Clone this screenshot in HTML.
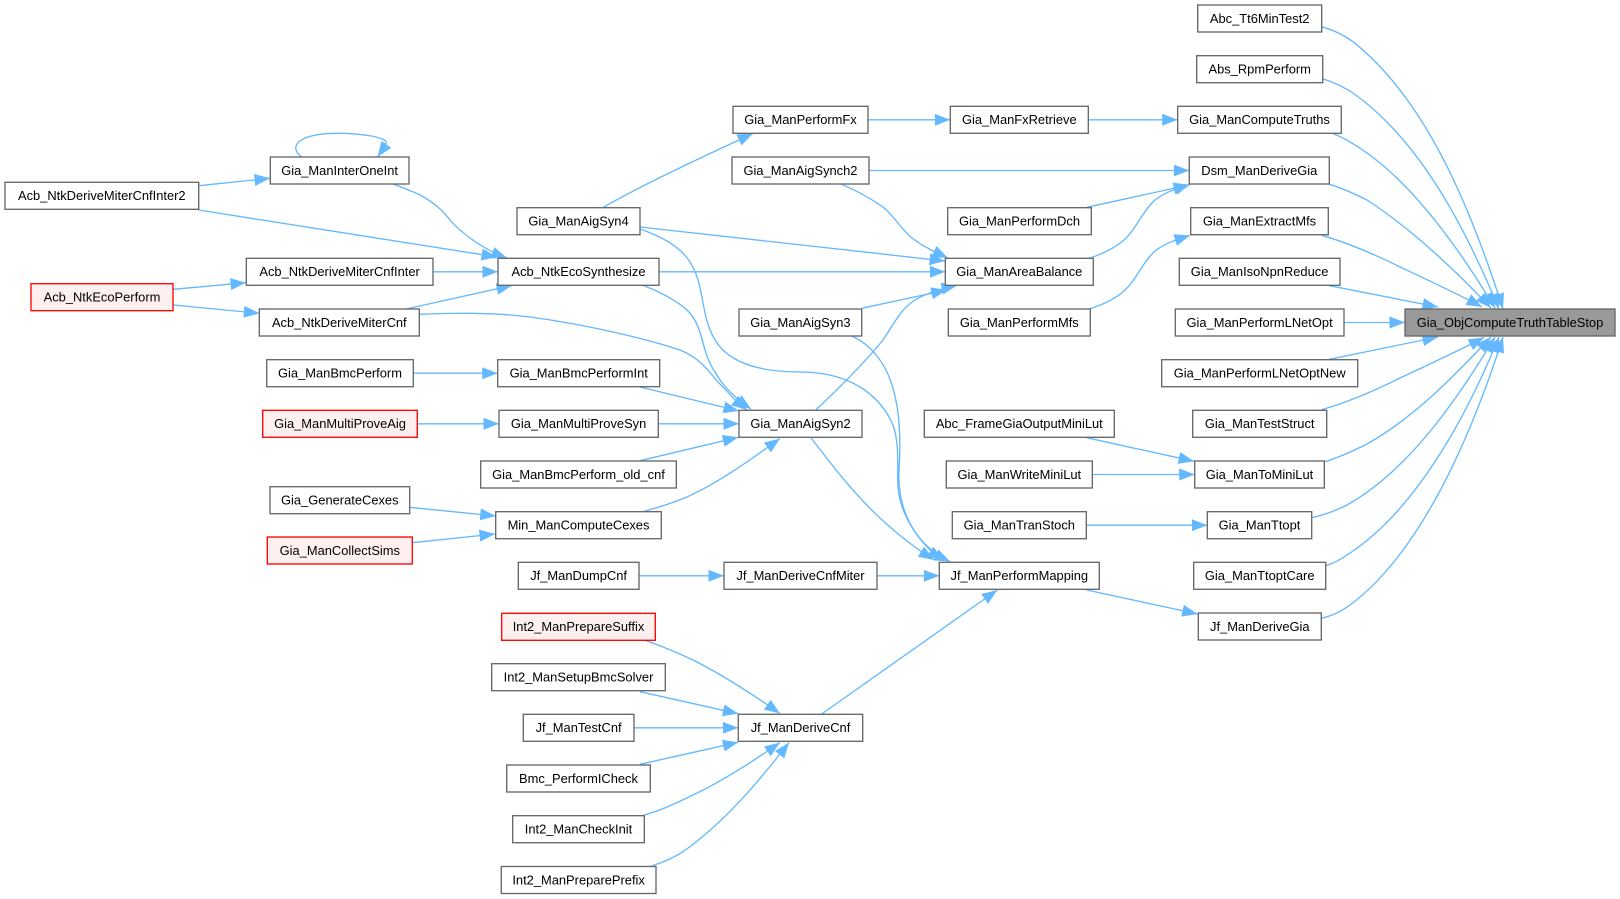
<!DOCTYPE html>
<html><head><meta charset="utf-8"><title>Call graph</title>
<style>
html,body{margin:0;padding:0;background:#fff;width:1620px;height:899px;overflow:hidden}
svg{display:block;filter:blur(.3px)}
.e path{fill:none;stroke:#63b8ff;stroke-width:1.33;marker-end:url(#a)}
rect{fill:#fff;stroke:#666;stroke-width:1.33}
rect.r{fill:#fff0f0;stroke:#f00}
rect.g{fill:#999}
text{font-family:"Liberation Sans",Arial,sans-serif;font-size:12.9px;fill:#000;text-anchor:middle}
</style></head><body>
<svg xmlns="http://www.w3.org/2000/svg" width="1620" height="899" viewBox="0 0 1620 899">
<defs><marker id="a" markerUnits="userSpaceOnUse" markerWidth="17" markerHeight="13" refX="15.5" refY="6" orient="auto"><path d="M0 0L15.5 6L0 12z" fill="#63b8ff"/></marker></defs>
<g class="e">
<path d="M1321.7 26.7C1333 30 1344 35 1353 41.7C1420 95 1465 190 1503 309"/>
<path d="M1322.7 78.7C1333 82 1344 87 1353 93C1415 137 1460 215 1499 309"/>
<path d="M1333.3 133.7C1345 138 1357 146 1367 153C1415 187 1460 250 1495 308"/>
<path d="M1329.3 184.3C1342 188 1355 194 1367 200C1410 228 1455 270 1491 308"/>
<path d="M1321.7 235.3C1345 242 1372 253 1400 267C1430 281 1458 294 1482 307"/>
<path d="M1329.3 285.7L1438 307"/>
<path d="M1344 322.5L1405 322.5"/>
<path d="M1329.3 359.3L1438 337"/>
<path d="M1321.7 409.7C1345 403 1372 392 1400 378C1430 364 1458 351 1484 337.5"/>
<path d="M1324.3 462C1337 458 1351 452 1367 444C1415 417 1455 375 1491 337"/>
<path d="M1311.7 517.7C1325 515 1337 510 1347 505C1410 470 1460 395 1495 337"/>
<path d="M1325.7 565.7C1335 563 1343 558 1350 553C1415 510 1465 420 1499 337"/>
<path d="M1321 618.3C1332 616 1342 611 1350 605C1420 553 1470 440 1503 337"/>
<path d="M1088.3 119.8L1177.7 119.8"/>
<path d="M868 119.8L950.3 119.8"/>
<path d="M603 207.5C640 186 700 158 753 133.5"/>
<path d="M869 170.5L1189.3 170.5"/>
<path d="M1086.7 207.3L1189 185"/>
<path d="M1089.3 258.3C1105 253 1116 247 1124 240C1136 229 1140 216 1152 203C1160 194 1175 189 1190 184.5"/>
<path d="M1089.3 309C1105 304 1116 298 1124 291C1136 280 1140 267 1152 254C1160 245 1175 240 1190 235.5"/>
<path d="M841.7 184.3C855 190 870 198 883 207C895 217 900 228 912 238C922 246 935 252 948 258"/>
<path d="M640 227L945 261"/>
<path d="M659 271.8L945.3 271.8"/>
<path d="M861.7 308.3L946.7 290"/>
<path d="M815.7 410C835 392 860 368 883 340C895 322 900 310 915 300C925 294 940 289 957 285.5"/>
<path d="M198.7 210L497 257"/>
<path d="M393.3 184C403 188 412 191 420 195C435 203 443 211 450 220C463 235 485 250 507 258"/>
<path d="M433 271.8L498 271.8"/>
<path d="M406 309L512 285.5"/>
<path d="M644 285.7C660 292 676 300 687 310C705 328 700 350 715 372C722 385 735 398 751 409"/>
<path d="M419.3 314.3C450 313 490 312 530 317C590 325 650 340 680 350C705 360 712 378 725 389C730 395 738 403 747 410"/>
<path d="M640 387L739 411"/>
<path d="M658.3 423.8L739 423.8"/>
<path d="M640 460.7L738.3 437.3"/>
<path d="M644 511.3C660 507 675 502 687 497C720 482 750 460 780 438.5"/>
<path d="M413.3 373.2L497.7 373.2"/>
<path d="M417.3 423.8L499 423.8"/>
<path d="M409.7 507.3L495.7 516"/>
<path d="M412.3 542.7L495 534"/>
<path d="M639 575.8L724 575.8"/>
<path d="M877 575.8L939.3 575.8"/>
<path d="M811 438C830 462 850 490 880 518C895 532 915 548 934 560"/>
<path d="M640.7 229.3C660 236 680 246 690 262C705 285 700 315 715 340C730 365 765 372 800 372C850 372 880 395 893 425C900 445 897 470 898 487C900 515 920 545 943 560"/>
<path d="M851.7 336C870 344 885 362 892 385C900 410 901 440 899 470C897 510 915 545 950 561.5"/>
<path d="M821.7 714L997.3 590"/>
<path d="M1086.7 590L1197.7 614"/>
<path d="M1086.7 437.7L1194 461.3"/>
<path d="M1092.3 474.5L1194.7 474.5"/>
<path d="M1086.3 525.2L1207.3 525.2"/>
<path d="M644 640C665 647 680 654 693 660C725 676 755 696 780 713.5"/>
<path d="M640 691.7L738.3 713.7"/>
<path d="M634 727.8L738.3 727.8"/>
<path d="M640 764.3L738.3 742.3"/>
<path d="M644 815C660 811 677 803 693 795C725 780 755 760 780 742.5"/>
<path d="M651.7 866C664 862 675 857 683 851.7C725 822 760 780 789 742.5"/>
<path d="M199 185.7L270 178.3"/>
<path d="M301.7 157C287 146 300 133.3 337 133.3C365 133.3 386 138 386 142C386 147 381 152 377.5 157"/>
<path d="M173.3 289.3L246 282.7"/>
<path d="M173.3 305L259.3 313.3"/>
</g>
<g>
<rect x="1405" y="309" width="210" height="27" class="g"/><text x="1510" y="326.8">Gia_ObjComputeTruthTableStop</text>
<rect x="1197.7" y="5" width="124" height="27"/><text x="1259.7" y="22.8">Abc_Tt6MinTest2</text>
<rect x="1196.7" y="55.7" width="126" height="27"/><text x="1259.7" y="73.5">Abs_RpmPerform</text>
<rect x="1177.7" y="106.3" width="163.6" height="27"/><text x="1259.5" y="124.1">Gia_ManComputeTruths</text>
<rect x="1189.3" y="157" width="140" height="27"/><text x="1259.3" y="174.8">Dsm_ManDeriveGia</text>
<rect x="1190.7" y="207.7" width="137.6" height="27"/><text x="1259.5" y="225.5">Gia_ManExtractMfs</text>
<rect x="1179.3" y="258.3" width="160.7" height="27"/><text x="1259.6" y="276.1">Gia_ManIsoNpnReduce</text>
<rect x="1175.3" y="309" width="168.7" height="27"/><text x="1259.6" y="326.8">Gia_ManPerformLNetOpt</text>
<rect x="1161.7" y="359.7" width="196" height="27"/><text x="1259.7" y="377.5">Gia_ManPerformLNetOptNew</text>
<rect x="1192.7" y="410.3" width="134" height="27"/><text x="1259.7" y="428.1">Gia_ManTestStruct</text>
<rect x="1194.7" y="461" width="129.6" height="27"/><text x="1259.5" y="478.8">Gia_ManToMiniLut</text>
<rect x="1207.3" y="511.7" width="104.4" height="27"/><text x="1259.5" y="529.5">Gia_ManTtopt</text>
<rect x="1193.7" y="562.3" width="132" height="27"/><text x="1259.7" y="580.1">Gia_ManTtoptCare</text>
<rect x="1198.3" y="613" width="123" height="27"/><text x="1259.8" y="630.8">Jf_ManDeriveGia</text>
<rect x="733" y="106.3" width="135" height="27"/><text x="800.5" y="124.1">Gia_ManPerformFx</text>
<rect x="732" y="157" width="137" height="27"/><text x="800.5" y="174.8">Gia_ManAigSynch2</text>
<rect x="950.3" y="106.3" width="138" height="27"/><text x="1019.3" y="124.1">Gia_ManFxRetrieve</text>
<rect x="947.7" y="207.7" width="143.6" height="27"/><text x="1019.5" y="225.5">Gia_ManPerformDch</text>
<rect x="945.3" y="258.3" width="148" height="27"/><text x="1019.3" y="276.1">Gia_ManAreaBalance</text>
<rect x="948.3" y="309" width="142" height="27"/><text x="1019.3" y="326.8">Gia_ManPerformMfs</text>
<rect x="739" y="309" width="122.7" height="27"/><text x="800.4" y="326.8">Gia_ManAigSyn3</text>
<rect x="739" y="410.3" width="123" height="27"/><text x="800.5" y="428.1">Gia_ManAigSyn2</text>
<rect x="924.3" y="410.3" width="190" height="27"/><text x="1019.3" y="428.1">Abc_FrameGiaOutputMiniLut</text>
<rect x="946.3" y="461" width="146" height="27"/><text x="1019.3" y="478.8">Gia_ManWriteMiniLut</text>
<rect x="952.3" y="511.7" width="134" height="27"/><text x="1019.3" y="529.5">Gia_ManTranStoch</text>
<rect x="939.3" y="562.3" width="160" height="27"/><text x="1019.3" y="580.1">Jf_ManPerformMapping</text>
<rect x="724" y="562.3" width="153" height="27"/><text x="800.5" y="580.1">Jf_ManDeriveCnfMiter</text>
<rect x="738.3" y="714.3" width="124.4" height="27"/><text x="800.5" y="732.1">Jf_ManDeriveCnf</text>
<rect x="517" y="207.7" width="123" height="27"/><text x="578.5" y="225.5">Gia_ManAigSyn4</text>
<rect x="498" y="258.3" width="161" height="27"/><text x="578.5" y="276.1">Acb_NtkEcoSynthesize</text>
<rect x="497.7" y="359.7" width="162" height="27"/><text x="578.7" y="377.5">Gia_ManBmcPerformInt</text>
<rect x="499" y="410.3" width="159.3" height="27"/><text x="578.6" y="428.1">Gia_ManMultiProveSyn</text>
<rect x="480.7" y="461" width="195.6" height="27"/><text x="578.5" y="478.8">Gia_ManBmcPerform_old_cnf</text>
<rect x="495.7" y="511.7" width="165.6" height="27"/><text x="578.5" y="529.5">Min_ManComputeCexes</text>
<rect x="518.3" y="562.3" width="120.7" height="27"/><text x="578.6" y="580.1">Jf_ManDumpCnf</text>
<rect x="501.7" y="613.3" width="153.6" height="27" class="r"/><text x="578.5" y="631.1">Int2_ManPrepareSuffix</text>
<rect x="491.7" y="663.7" width="173.6" height="27"/><text x="578.5" y="681.5">Int2_ManSetupBmcSolver</text>
<rect x="523.3" y="714.3" width="110.7" height="27"/><text x="578.6" y="732.1">Jf_ManTestCnf</text>
<rect x="506.7" y="765" width="143.6" height="27"/><text x="578.5" y="782.8">Bmc_PerformICheck</text>
<rect x="512.7" y="815.7" width="131.6" height="27"/><text x="578.5" y="833.5">Int2_ManCheckInit</text>
<rect x="501.3" y="866.5" width="154.7" height="27"/><text x="578.6" y="884.3">Int2_ManPreparePrefix</text>
<rect x="270.3" y="157" width="138.7" height="27"/><text x="339.6" y="174.8">Gia_ManInterOneInt</text>
<rect x="246.3" y="258.3" width="186.7" height="27"/><text x="339.6" y="276.1">Acb_NtkDeriveMiterCnfInter</text>
<rect x="259.3" y="309" width="160" height="27"/><text x="339.3" y="326.8">Acb_NtkDeriveMiterCnf</text>
<rect x="266.7" y="359.7" width="146.6" height="27"/><text x="340" y="377.5">Gia_ManBmcPerform</text>
<rect x="262.7" y="410.3" width="154.6" height="27" class="r"/><text x="340" y="428.1">Gia_ManMultiProveAig</text>
<rect x="270" y="486.7" width="139.7" height="27"/><text x="339.8" y="504.5">Gia_GenerateCexes</text>
<rect x="267.3" y="537" width="145" height="27" class="r"/><text x="339.8" y="554.8">Gia_ManCollectSims</text>
<rect x="5" y="182.3" width="193.7" height="27"/><text x="101.8" y="200.1">Acb_NtkDeriveMiterCnfInter2</text>
<rect x="31" y="283.7" width="142" height="27" class="r"/><text x="102" y="301.5">Acb_NtkEcoPerform</text>
</g>
</svg>
</body></html>
